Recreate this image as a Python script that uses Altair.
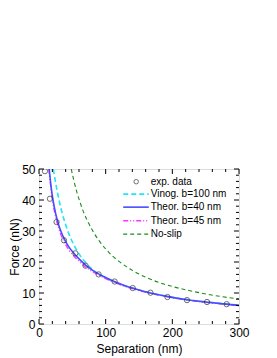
import altair as alt
import pandas as pd

FONT = "Liberation Sans"

# experimental data
exp_x = [8.9, 16.4, 26.3, 37.5, 54.5, 69.8, 89.4, 113.5, 140.6, 167.2, 192.7, 222.0, 252.0, 281.5]
exp_y = [49.3, 40.4, 32.9, 27.0, 22.8, 18.8, 16.0, 13.7, 11.6, 10.1, 8.7, 7.7, 7.1, 6.4]

# Vinog. b=100 nm (cyan dashed)
vin_x = [21.5, 25, 30, 35, 40, 45, 50, 60, 70, 80, 90, 100, 120, 140, 170, 200, 230, 260, 300]
vin_y = [50.0, 45.5, 40.0, 35.6, 32.0, 29.0, 26.5, 22.6, 19.8, 17.6, 16.1, 14.9, 13.0, 11.6, 9.9, 8.6, 7.6, 6.9, 6.1]

# Theor. b=40 nm (blue solid)
b40_x = [15.3, 18, 21, 25, 30, 35, 40, 45, 52, 60, 70, 80, 90, 100, 112, 125, 140, 167, 190, 220, 250, 280, 300]
b40_y = [50.0, 44.5, 40.0, 35.6, 31.6, 28.8, 26.6, 24.8, 22.9, 21.0, 19.0, 17.4, 16.1, 15.0, 13.8, 12.7, 11.6, 10.0, 9.0, 7.9, 7.1, 6.4, 6.0]

# Theor. b=45 nm (magenta dash-dot)
b45_x = [14.8, 18, 21, 25, 30, 35, 40, 45, 52, 60, 70, 80, 90, 100, 112, 125, 140, 167, 190, 220, 250, 280, 300]
b45_y = [50.0, 43.6, 38.9, 34.5, 30.5, 27.7, 25.6, 23.8, 22.0, 20.2, 18.4, 16.9, 15.7, 14.6, 13.5, 12.4, 11.4, 9.9, 8.9, 7.8, 7.0, 6.3, 5.9]

# No-slip (green dashed)
ns_x = [48.4, 52, 57, 62, 67, 75, 82, 90, 100, 110, 120, 140, 160, 180, 200, 225, 250, 275, 300]
ns_y = [50.0, 46.5, 42.4, 39.0, 36.0, 32.3, 29.5, 26.9, 24.2, 22.0, 20.2, 17.3, 15.1, 13.4, 12.1, 10.8, 9.7, 8.8, 8.1]

legend_labels = ["exp. data", "Vinog. b=100 nm", "Theor. b=40 nm", "Theor. b=45 nm", "No-slip"]
legend_rows = [45.9, 41.9, 37.7, 33.3, 29.0]
legend_x0, legend_x1, legend_xc, legend_xt = 126.3, 164.7, 145.8, 167.5

x_major = [0, 100, 200, 300]
x_minor = [20, 40, 60, 80, 120, 140, 160, 180, 220, 240, 260, 280]
y_major = [0, 10, 20, 30, 40, 50]
y_minor = [2, 4, 6, 8, 12, 14, 16, 18, 22, 24, 26, 28, 32, 34, 36, 38, 42, 44, 46, 48]

W, H = 200, 155

xs = alt.Scale(domain=[0, 300], nice=False, zero=False)
ys = alt.Scale(domain=[0, 50], nice=False, zero=False)

xax = alt.Axis(values=x_major, tickSize=0, domain=False, grid=False, labelFontSize=12,
               labelFont=FONT, titleFont=FONT, titleFontSize=12, titleFontWeight="normal",
               labelPadding=3, titlePadding=5, labelColor="black", titleColor="black",
               labelFlush=False, labelOverlap=False)
yax = alt.Axis(values=y_major, tickSize=0, domain=False, grid=False, labelFontSize=12,
               labelFont=FONT, titleFont=FONT, titleFontSize=12, titleFontWeight="normal",
               labelPadding=4, titlePadding=0, labelColor="black", titleColor="black",
               labelFlush=False, labelOverlap=False)

X = alt.X("x:Q", scale=xs, axis=xax, title="Separation (nm)")
Y = alt.Y("y:Q", scale=ys, axis=yax, title="Force (nN)")


def curve(xv, yv, color, dash, width):
    df = pd.DataFrame({"x": xv, "y": yv})
    kw = dict(color=color, strokeWidth=width, interpolate="monotone", clip=True)
    if dash:
        kw["strokeDash"] = dash
    return alt.Chart(df).mark_line(**kw).encode(x=X, y=Y)


def leg_line(row, color, dash, width):
    df = pd.DataFrame({"x": [legend_x0, legend_x1], "y": [row, row]})
    kw = dict(color=color, strokeWidth=width)
    if dash:
        kw["strokeDash"] = dash
    return alt.Chart(df).mark_line(**kw).encode(x=X, y=Y)


cols = ["#22e5f5", "#4a4aff", "#ff33ff", "#1a8c1a"]
dashes = [[5, 3], None, [5, 2, 1, 2, 1, 2], [4, 3]]
widths = [1.6, 1.6, 1.3, 1.1]

layers = []
pts = alt.Chart(pd.DataFrame({"x": exp_x, "y": exp_y})).mark_point(
    shape="circle", filled=False, color="#333333", size=28, strokeWidth=1, clip=True
).encode(x=X, y=Y)

layers.append(curve(ns_x, ns_y, cols[3], dashes[3], widths[3]))
layers.append(curve(vin_x, vin_y, cols[0], dashes[0], widths[0]))
layers.append(curve(b45_x, b45_y, cols[2], dashes[2], widths[2]))
layers.append(curve(b40_x, b40_y, cols[1], dashes[1], widths[1]))
layers.append(pts)

# legend
layers.append(alt.Chart(pd.DataFrame({"x": [legend_xc], "y": [legend_rows[0]]})).mark_point(
    shape="circle", filled=False, color="#333333", size=20, strokeWidth=1
).encode(x=X, y=Y))
for i in range(4):
    layers.append(leg_line(legend_rows[i + 1], cols[i], dashes[i], widths[i]))
txt = alt.Chart(pd.DataFrame({"x": [legend_xt] * 5, "y": legend_rows, "t": legend_labels})).mark_text(
    align="left", baseline="middle", fontSize=10, font=FONT, color="black"
).encode(x=X, y=Y, text="t:N")
layers.append(txt)


# inward ticks on all four sides
def xticks(vals, length):
    df = pd.DataFrame({"x": vals})
    b = alt.Chart(df).mark_rule(color="black", strokeWidth=1).encode(
        x=X, y=alt.value(H), y2=alt.value(H - length))
    t = alt.Chart(df).mark_rule(color="black", strokeWidth=1).encode(
        x=X, y=alt.value(0), y2=alt.value(length))
    return [b, t]


def yticks(vals, length):
    df = pd.DataFrame({"y": vals})
    l = alt.Chart(df).mark_rule(color="black", strokeWidth=1).encode(
        y=Y, x=alt.value(0), x2=alt.value(length))
    r = alt.Chart(df).mark_rule(color="black", strokeWidth=1).encode(
        y=Y, x=alt.value(W), x2=alt.value(W - length))
    return [l, r]


layers += xticks(x_major, 5) + xticks(x_minor, 3) + yticks(y_major, 5) + yticks(y_minor, 3)

chart = alt.layer(*layers).properties(
    width=W, height=H,
    autosize=alt.AutoSizeParams(type="none"),
    padding={"left": 31, "top": 161, "right": 30, "bottom": 32},
).configure_view(stroke="black", strokeWidth=1).configure(background="white")

chart.save("out.html", embed_options={"renderer": "svg", "actions": False})
